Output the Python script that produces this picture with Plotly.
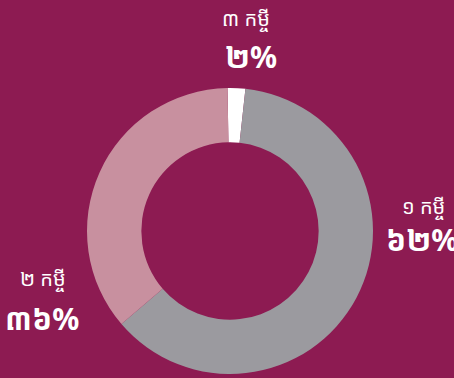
import plotly.graph_objects as go

# Share of borrowers by number of loans held
loan_counts = [3, 1, 2]
shares = [2, 62, 36]
slice_colors = ["#FFFFFF", "#9B9A9F", "#C8909F"]

# Label placement (pixel centres in a 454x378 canvas)
label_pos = {3: (246, 19, 251, 56), 1: (423, 206, 384, 239), 2: (43, 278, 42, 318)}

W, H = 454, 378
BG = "#8D1B52"
KHMER_DIGITS = "០១២៣៤៥៦៧៨៩"


def khmer_num(n):
    return "".join(KHMER_DIGITS[int(d)] for d in str(n))


fig = go.Figure(
    go.Pie(
        labels=[f"{khmer_num(c)} កម្ចី" for c in loan_counts],
        values=shares,
        sort=False,
        direction="clockwise",
        rotation=-1,
        hole=0.62,
        marker=dict(colors=slice_colors, line=dict(width=0)),
        textinfo="none",
        hoverinfo="label+percent",
        showlegend=False,
        domain=dict(x=[87 / W, 373 / W], y=[4 / H, 290 / H]),
    )
)

font_family = "Noto Sans Khmer, Noto Sans, DejaVu Sans, sans-serif"
annotations = []
for c, s in zip(loan_counts, shares):
    lx, ly, px, py = label_pos[c]
    annotations.append(dict(
        x=lx / W, y=1 - ly / H, xref="paper", yref="paper",
        text=f"{khmer_num(c)} កម្ចី", showarrow=False,
        xanchor="center", yanchor="middle",
        font=dict(family=font_family, size=20, color="white"),
    ))
    annotations.append(dict(
        x=px / W, y=1 - py / H, xref="paper", yref="paper",
        text=f"<b>{khmer_num(s)}%</b>", showarrow=False,
        xanchor="left" if c == 1 else "center", yanchor="middle",
        font=dict(family=font_family, size=30, color="white"),
    ))

fig.update_layout(
    width=W, height=H,
    margin=dict(l=0, r=0, t=0, b=0),
    paper_bgcolor=BG, plot_bgcolor=BG,
    annotations=annotations,
)

fig.write_html("out.html")
